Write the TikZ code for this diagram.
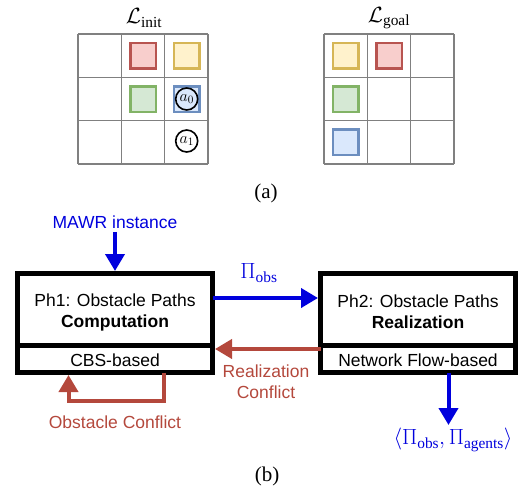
\documentclass[tikz,border=0pt]{standalone}
\usepackage{fix-cm}
\usepackage{fontspec}
\setmainfont{Liberation Serif}
\newfontfamily\hv{Liberation Sans}
\usetikzlibrary{arrows.meta}
\definecolor{redS}{HTML}{B85450}\definecolor{redF}{HTML}{F8CECC}
\definecolor{yelS}{HTML}{D6B656}\definecolor{yelF}{HTML}{FFF2CC}
\definecolor{grnS}{HTML}{82B366}\definecolor{grnF}{HTML}{D5E8D4}
\definecolor{bluS}{HTML}{6C8EBF}\definecolor{bluF}{HTML}{DAE8FC}
\definecolor{arrblue}{HTML}{0000DD}
\definecolor{arrred}{HTML}{B4483C}
\definecolor{gridgray}{HTML}{808080}
\tikzset{
  gridline/.style={draw=gridgray, line width=1.5pt},
  obst/.style={draw=#1S, fill=#1F, line width=2.5pt, minimum size=25.5pt, inner sep=0pt},
  agent/.style={circle, draw=black, line width=1.6pt, minimum size=22pt, inner sep=0pt, font=\fontsize{16}{16}\selectfont},
  bigbox/.style={draw=black, line width=5pt, fill=white, inner sep=0pt},
  sans/.style={font=\hv\fontsize{17.5}{21}\selectfont, align=center},
  barrow/.style={draw=arrblue, line width=4pt, -{Triangle[width=19pt,length=17pt]}},
  rarrow/.style={draw=arrred, line width=4pt, -{Triangle[width=19pt,length=17pt]}},
  lbl/.style={font=\fontsize{21}{23}\selectfont},
  mlbl/.style={font=\fontsize{22}{24}\selectfont},
}
\begin{document}
\begin{tikzpicture}[x=1pt,y=-1pt]
\useasboundingbox (0,0) rectangle (520,493);
% grids
\foreach \ox/\nm in {78/g1,324/g2}{
  \foreach \i in {0,1,2,3}{
    \draw[gridline] (\ox+\i*43.33,34) -- (\ox+\i*43.33,164);
    \draw[gridline] (\ox,34+\i*43.33) -- (\ox+130,34+\i*43.33);
  }
}
\node[mlbl] (Linit) at (144,18) {$\mathcal{L}_{\mathrm{init}}$};
\node[mlbl] (Lgoal) at (389,18) {$\mathcal{L}_{\mathrm{goal}}$};
% init obstacles
\node[obst=red] (ir) at (143.3,55.7) {};
\node[obst=yel] (iy) at (186.7,55.7) {};
\node[obst=grn] (ig) at (143.3,99) {};
\node[obst=blu] (ib) at (186.7,99) {};
\node[agent] (a0) at (186.7,99) {$a_0$};
\node[agent] (a1) at (186.7,141) {$a_1$};
% goal obstacles
\node[obst=yel] (gy) at (345.7,55.7) {};
\node[obst=red] (gr) at (389,55.7) {};
\node[obst=grn] (gg) at (345.7,99) {};
\node[obst=blu] (gb) at (345.7,142.3) {};
\node[lbl] (capa) at (266,193) {(a)};
% boxes
\node[bigbox, minimum width=195pt, minimum height=99pt] (b1) at (115,323) {};
\node[bigbox, minimum width=195pt, minimum height=99pt] (b2) at (418,323) {};
\draw[line width=5pt] (b1.west |- 0,345) coordinate (d1l) -- (b1.east |- 0,345) coordinate (d1r);
\draw[line width=5pt] (b2.west |- 0,345) coordinate (d2l) -- (b2.east |- 0,345) coordinate (d2r);
\node[sans] (t1) at (115,312) {Ph1: Obstacle Paths\\\bfseries Computation};
\node[sans] (c1) at (115,360) {CBS-based};
\node[sans] (t2) at (418,312) {Ph2: Obstacle Paths\\\bfseries Realization};
\node[sans] (c2) at (418,360) {Network Flow-based};
% input
\node[sans, text=arrblue] (in) at (115,222) {MAWR instance};
\draw[barrow] (in.south) -- (b1.north);
% pi obs
\coordinate (p1) at (212.5,298);
\coordinate (p2) at (318,298);
\draw[barrow] (p1) -- (p2);
\node[mlbl, text=arrblue] (piobs) at (259,273) {$\Pi_{\mathrm{obs}}$};
% realization conflict
\coordinate (r1) at (320.5,349);
\coordinate (r2) at (215,349);
\draw[rarrow] (r1) -- (r2);
\node[sans, text=arrred] (rc) at (266,382) {Realization\\Conflict};
% obstacle conflict loop
\coordinate (o1) at (163.5,372.5);
\coordinate (o2) at (68.5,375);
\draw[rarrow] (o1) -- (163.5,401) -- (68.5,401) -- (o2);
\node[sans, text=arrred] (oc) at (115,422) {Obstacle Conflict};
% output
\node[mlbl, text=arrblue] (out) at (453,440) {$\langle \Pi_{\mathrm{obs}}, \Pi_{\mathrm{agents}}\rangle$};
\draw[barrow] (448.5,372.5) -- (448.5,425);
\node[lbl] (capb) at (267,476) {(b)};
\end{tikzpicture}
\end{document}
